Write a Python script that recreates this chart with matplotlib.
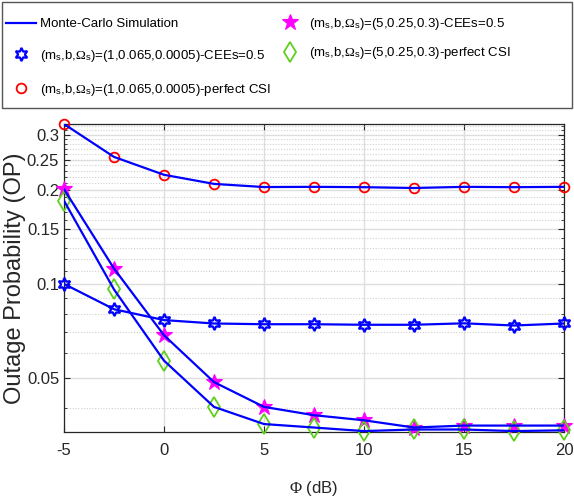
import matplotlib
matplotlib.use('Agg')
import matplotlib.pyplot as plt
import numpy as np
from matplotlib.patches import Rectangle
from matplotlib.ticker import FixedLocator, FixedFormatter, NullFormatter

plt.rcParams['font.family'] = ['Liberation Sans', 'DejaVu Sans']
plt.rcParams['mathtext.fontset'] = 'custom'
plt.rcParams['mathtext.rm'] = 'Liberation Serif'
plt.rcParams['mathtext.it'] = 'Liberation Serif:italic'
plt.rcParams['mathtext.sf'] = 'Liberation Sans'

# SNR axis (dB) and outage probability curves
phi = [-5, -2.5, 0, 2.5, 5, 7.5, 10, 12.5, 15, 17.5, 20]
op_shadow_cee = [0.100, 0.083, 0.0766, 0.0747, 0.0743, 0.0743, 0.0740, 0.0740, 0.0748, 0.0736, 0.0747]
op_shadow_csi = [0.325, 0.255, 0.2235, 0.209, 0.2042, 0.2045, 0.2040, 0.2028, 0.2045, 0.2040, 0.2045]
op_light_cee = [0.201, 0.112, 0.0685, 0.0485, 0.0404, 0.0380, 0.0366, 0.0347, 0.0352, 0.0352, 0.0352]
op_light_csi = [0.1846, 0.096, 0.0568, 0.0404, 0.0356, 0.0347, 0.0338, 0.0342, 0.0342, 0.0338, 0.0340]

yticks = [0.05, 0.1, 0.15, 0.2, 0.25, 0.3]
yticklabels = ['0.05', '0.1', '0.15', '0.2', '0.25', '0.3']
xticks = [-5, 0, 5, 10, 15, 20]

lab_a = r'(m$_{\mathsf{s}}$,b,$\Omega_{\mathsf{s}}$)=(1,0.065,0.0005)'
lab_b = r'(m$_{\mathsf{s}}$,b,$\Omega_{\mathsf{s}}$)=(5,0.25,0.3)'

fig = plt.figure(figsize=(5.74, 5.04), dpi=100, facecolor='white')
ax = fig.add_axes([64/574, 1-432.3/504, 500/574, 308.3/504])
ax.set_yscale('log')

blue = '#0000ff'
green = '#5fcf1c'
# simulation lines on top of the analytic markers
sim = None
for ys in (op_shadow_cee, op_shadow_csi, op_light_cee, op_light_csi):
    sim, = ax.plot(phi, ys, '-', color=blue, lw=1.6, zorder=4)

m1, = ax.plot(phi, op_shadow_cee, ls='none', marker=(6, 1, 0), ms=9.5, mfc='none',
              mec=blue, mew=1.6, zorder=3, clip_on=False)
m2, = ax.plot(phi, op_shadow_csi, ls='none', marker='o', ms=7, mfc='none',
              mec='#ff0000', mew=1.3, zorder=3, clip_on=False)
m3, = ax.plot(phi, op_light_cee, ls='none', marker='*', ms=12, mfc='#ff00ff',
              mec='#ff00ff', mew=0.8, zorder=3, clip_on=False)
m4, = ax.plot(phi, op_light_csi, ls='none', marker='d', ms=10, mfc='none',
              mec=green, mew=1.3, zorder=3, clip_on=False)

ax.set_xlim(-5, 20)
ax.set_ylim(0.0335, 0.325)
ax.set_xticks(xticks)
ax.set_xticklabels([str(t) for t in xticks])
ax.yaxis.set_major_locator(FixedLocator(yticks))
ax.yaxis.set_major_formatter(FixedFormatter(yticklabels))
minor = [v/100 for v in range(4, 33) if v not in (5, 10, 15, 20, 25, 30)]
ax.yaxis.set_minor_locator(FixedLocator(minor))
ax.yaxis.set_minor_formatter(NullFormatter())
ax.xaxis.set_minor_locator(FixedLocator([]))

ax.grid(True, which='major', color='#dedede', lw=1.0, ls='-')
ax.grid(True, which='minor', axis='y', color='#d0d0d0', lw=0.8, ls=(0, (1, 1.5)))
ax.set_axisbelow(True)

for s in ax.spines.values():
    s.set_color('#262626')
    s.set_linewidth(0.9)
ax.tick_params(which='both', direction='in', top=True, right=True, colors='#262626',
               labelsize=12)
ax.tick_params(which='major', length=4.5, width=0.8)
ax.tick_params(which='minor', length=2.5, width=0.6)
ax.tick_params(axis='x', pad=8)
ax.tick_params(axis='y', pad=3.5)

ax.set_xlabel(r'$\Phi$ (dB)', fontsize=12, color='#262626', va='center')
ax.xaxis.set_label_coords(0.5, -(489-432.3)/308.3)
ax.set_ylabel('Outage Probability (OP)', fontsize=17, color='#262626', va='center')
ax.yaxis.set_label_coords(-(64-15)/500, 0.5)

# legend box across the top
fig.patches.append(Rectangle((2/574, 1-108/504), 570/574, 106/504, transform=fig.transFigure,
                             fill=False, edgecolor='#555555', lw=1.0))
leg_kw = dict(loc='upper left', frameon=False, borderpad=0, borderaxespad=0,
              handlelength=2.3, handletextpad=0.25, fontsize=9.5)
fig.legend([sim, m1, m2], ['Monte-Carlo Simulation', lab_a + '-CEEs=0.5', lab_a + '-perfect CSI'],
           bbox_to_anchor=(6/574, 1-18/504), labelspacing=1.35, **leg_kw)
fig.legend([m3, m4], [lab_b + '-CEEs=0.5', lab_b + '-perfect CSI'],
           bbox_to_anchor=(275/574, 1-16/504), labelspacing=1.0, **leg_kw)

fig.savefig('out.png', dpi=100)
